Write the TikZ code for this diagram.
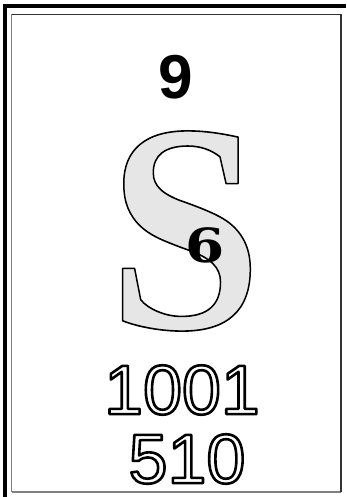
\documentclass[tikz,border=0pt]{standalone}
\usepackage{fontspec}
\setmainfont{Liberation Serif}
\newfontfamily\helv{Liberation Sans}
\newfontfamily\dvs{DejaVu Serif}
\definecolor{sfill}{HTML}{E6E6E6}
\definecolor{framegray}{HTML}{808080}
\definecolor{framedark}{HTML}{333333}
\tikzset{
  txt/.style={inner sep=0pt, anchor=center},
}
\newcommand{\outl}[3]{{\color{#2}\special{pdf:literal direct 0 G #1 w 1 j 2 Tr}#3\special{pdf:literal direct 0 Tr 1 w 0 j}}}
\begin{document}
\begin{tikzpicture}[x=1pt,y=1pt]
\useasboundingbox (0,0) rectangle (346,497);
% outer frame
\draw[line width=4pt] (5,0) -- (5,491) -- (346,491);
% inner frame
\draw[framegray, line width=1.5pt] (11.7,5) -- (11.7,482.5);
\draw[framegray, line width=1.5pt] (11.7,5) -- (341,5);
\draw[framedark, line width=1.5pt] (11.7,482.5) -- (341,482.5) -- (341,5);
% texts
\node[txt, font=\helv\bfseries\fontsize{62}{62}\selectfont] (num) at (176,420) {9};
\node[txt, xscale=0.93, font=\bfseries\fontsize{298}{298}\selectfont] (sym) at (185,266) {\outl{1.6}{sfill}{S}};
\node[txt, xscale=1.2, font=\dvs\bfseries\fontsize{47}{47}\selectfont] (ox) at (205,252) {6};
\node[txt, font=\helv\fontsize{70}{70}\selectfont] (m1) at (182,107) {\outl{2.6}{white}{1001}};
\node[txt, font=\helv\fontsize{70}{70}\selectfont] (m2) at (187,38) {\outl{2.6}{white}{510}};
\end{tikzpicture}
\end{document}
